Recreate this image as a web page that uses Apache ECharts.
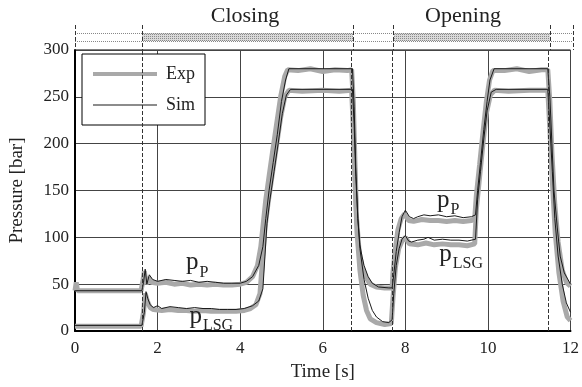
<!DOCTYPE html>
<html>
<head>
<meta charset="utf-8">
<script src="https://cdn.jsdelivr.net/npm/echarts@6/dist/echarts.min.js"></script>
<style>
  html, body { margin: 0; padding: 0; background: #fff; }
  #chart { width: 582px; height: 387px; }
</style>
</head>
<body>
<div id="chart"></div>
<script>
// Simulated pump pressure p_P [bar] over time [s]
var simPTime = [0, 1.62, 1.66, 1.70, 1.74, 1.80, 1.88, 2.0, 2.2, 2.4, 2.6, 2.8, 3.0, 3.2, 3.4, 3.6, 3.8, 4.0, 4.15, 4.3, 4.45, 4.55, 4.62, 4.7, 4.8, 4.9, 5.0, 5.1, 5.18, 6.72, 6.76, 6.8, 6.85, 6.9, 6.95, 7.0, 7.1, 7.2, 7.35, 7.6, 7.68, 7.72, 7.78, 7.85, 7.92, 8.0, 8.1, 8.2, 8.3, 8.45, 8.6, 8.8, 9.0, 9.2, 9.4, 9.6, 9.7, 9.75, 9.82, 9.9, 9.98, 10.05, 10.15, 11.45, 11.5, 11.55, 11.6, 11.68, 11.75, 11.85, 12];
var simP     = [43, 43, 52, 66, 50, 60, 55, 53, 55, 54, 53, 54, 52, 53, 52, 51, 51, 51, 53, 58, 70, 90, 120, 150, 180, 210, 245, 268, 280, 280, 240, 175, 120, 92, 80, 70, 58, 51, 47, 46, 46, 60, 85, 105, 122, 129, 122, 120, 122, 124, 123, 124, 122, 123, 121, 122, 124, 150, 180, 215, 245, 268, 280, 280, 250, 200, 150, 110, 80, 62, 50];

// Simulated load-sensing pressure p_LSG [bar]
var simLTime = [0, 1.62, 1.68, 1.72, 1.76, 1.82, 1.9, 2.0, 2.1, 2.3, 2.5, 2.7, 2.9, 3.1, 3.3, 3.5, 3.7, 3.9, 4.1, 4.3, 4.45, 4.55, 4.6, 4.65, 4.72, 4.82, 4.92, 5.02, 5.12, 5.22, 6.72, 6.76, 6.8, 6.85, 6.9, 7.0, 7.1, 7.2, 7.3, 7.45, 7.6, 7.68, 7.72, 7.78, 7.85, 7.92, 8.0, 8.08, 8.15, 8.3, 8.45, 8.55, 8.7, 8.9, 9.1, 9.3, 9.5, 9.7, 9.75, 9.82, 9.9, 9.98, 10.08, 10.2, 11.45, 11.5, 11.56, 11.62, 11.7, 11.8, 11.9, 12];
var simL     = [6, 6, 20, 42, 35, 28, 25, 27, 24, 26, 25, 24, 25, 24, 24, 23, 23, 23, 24, 27, 32, 45, 80, 115, 140, 170, 200, 232, 252, 258, 258, 220, 165, 120, 88, 55, 35, 22, 15, 10, 9, 12, 40, 70, 88, 98, 102, 96, 95, 97, 98, 100, 97, 98, 97, 97, 96, 98, 140, 170, 205, 235, 255, 258, 258, 220, 170, 120, 80, 50, 30, 20];

// Measured pump pressure p_P [bar]
var expPTime = [0, 0.03, 0.06, 1.6, 1.65, 1.68, 1.72, 1.78, 1.85, 2.0, 2.2, 2.4, 2.6, 2.8, 3.0, 3.2, 3.4, 3.6, 3.8, 4.0, 4.15, 4.3, 4.42, 4.5, 4.56, 4.62, 4.7, 4.78, 4.88, 4.98, 5.08, 5.15, 5.4, 5.7, 6.0, 6.3, 6.6, 6.7, 6.74, 6.78, 6.82, 6.88, 6.95, 7.05, 7.15, 7.3, 7.5, 7.68, 7.7, 7.76, 7.82, 7.9, 7.98, 8.08, 8.2, 8.4, 8.6, 8.8, 9.0, 9.2, 9.4, 9.6, 9.68, 9.72, 9.8, 9.88, 9.96, 10.04, 10.12, 10.4, 10.7, 11.0, 11.3, 11.45, 11.5, 11.55, 11.62, 11.7, 11.8, 11.9, 12];
var expP     = [43, 52, 43, 43, 55, 64, 50, 57, 52, 51, 52, 50, 51, 49, 50, 49, 50, 49, 49, 50, 52, 58, 70, 90, 115, 140, 165, 190, 220, 250, 272, 279, 278, 280, 277, 279, 278, 279, 245, 180, 120, 85, 68, 57, 50, 47, 46, 46, 62, 88, 108, 120, 125, 118, 117, 119, 118, 118, 117, 118, 117, 118, 120, 145, 178, 212, 244, 268, 278, 278, 280, 277, 279, 279, 245, 190, 135, 95, 65, 52, 48];

// Measured load-sensing pressure p_LSG [bar]
var expLTime = [0, 1.6, 1.66, 1.7, 1.75, 1.82, 1.9, 2.1, 2.3, 2.5, 2.7, 2.9, 3.1, 3.3, 3.5, 3.7, 3.9, 4.1, 4.25, 4.38, 4.48, 4.54, 4.6, 4.68, 4.78, 4.88, 4.98, 5.08, 5.18, 5.5, 6.0, 6.4, 6.7, 6.74, 6.78, 6.83, 6.9, 6.98, 7.06, 7.15, 7.3, 7.5, 7.66, 7.7, 7.76, 7.84, 7.92, 8.0, 8.1, 8.3, 8.5, 8.7, 8.9, 9.1, 9.3, 9.5, 9.68, 9.72, 9.8, 9.88, 9.96, 10.06, 10.16, 10.5, 11.0, 11.45, 11.5, 11.56, 11.63, 11.72, 11.82, 11.92, 12];
var expL     = [5, 5, 20, 40, 32, 25, 23, 22, 23, 22, 22, 21, 22, 21, 21, 21, 21, 22, 24, 28, 40, 75, 110, 138, 168, 198, 228, 250, 257, 256, 257, 256, 257, 215, 160, 105, 65, 38, 22, 13, 9, 7, 8, 35, 68, 88, 96, 100, 93, 92, 94, 92, 93, 92, 92, 91, 93, 130, 165, 200, 232, 252, 257, 256, 257, 257, 215, 160, 105, 62, 32, 15, 11];

// Valve phases [start, end] in s and switching instants
var phaseNames  = ['Closing', 'Opening'];
var phaseRanges = [[1.62, 6.7], [7.68, 11.45]];
var switchTimes = [1.62, 6.7, 7.68, 11.45];

// Axis ticks
var xTicks = [0, 2, 4, 6, 8, 10, 12];
var yTicks = [0, 50, 100, 150, 200, 250, 300];

// Curve annotations: [text parts, t, p]
var curveLabels = [
  { main: 'p', sub: 'P',   t: 2.96, p: 70 },
  { main: 'p', sub: 'LSG', t: 3.30, p: 13 },
  { main: 'p', sub: 'P',   t: 9.04, p: 137 },
  { main: 'p', sub: 'LSG', t: 9.35, p: 79 }
];

function zip(a, b) { return a.map(function (v, i) { return [v, b[i]]; }); }

var SERIF = '"Liberation Serif", "DejaVu Serif", serif';

// stippled fill for the phase bars
var pat = document.createElement('canvas');
pat.width = 2; pat.height = 2;
var pctx = pat.getContext('2d');
pctx.fillStyle = '#dadada'; pctx.fillRect(0, 0, 2, 2);
pctx.fillStyle = '#8c8c8c'; pctx.fillRect(0, 0, 1, 1);

var chart = echarts.init(document.getElementById('chart'), null, { renderer: 'canvas' });

var labelPoints = curveLabels.map(function (c) {
  return {
    coord: [c.t, c.p],
    label: { formatter: '{m|' + c.main + '}{s|' + c.sub + '}' }
  };
});

var option = {
  animation: false,
  backgroundColor: '#fff',
  textStyle: { fontFamily: SERIF },
  grid: [
    { left: 75, right: 9, top: 50, bottom: 56, show: true, borderColor: '#000', borderWidth: 1 },
    { left: 75, right: 9, top: 25, height: 25 }
  ],
  xAxis: [
    {
      type: 'value', min: 0, max: 12, interval: 2, gridIndex: 0,
      name: 'Time [s]', nameLocation: 'middle', nameGap: 32,
      nameTextStyle: { fontFamily: SERIF, fontSize: 19, color: '#222' },
      axisLine: { show: true, lineStyle: { color: '#000', width: 2 } },
      axisTick: { show: false },
      axisLabel: { fontFamily: SERIF, fontSize: 17, color: '#222', margin: 9,
        formatter: function (v) { return xTicks.indexOf(v) >= 0 ? String(v) : ''; } },
      splitLine: { show: true, lineStyle: { color: '#444', width: 1 } }
    },
    { type: 'value', min: 0, max: 12, gridIndex: 1, show: false }
  ],
  yAxis: [
    {
      type: 'value', min: 0, max: 300, interval: 50, gridIndex: 0,
      name: 'Pressure [bar]', nameLocation: 'middle', nameGap: 48,
      nameTextStyle: { fontFamily: SERIF, fontSize: 19, color: '#222' },
      axisLine: { show: true, lineStyle: { color: '#000', width: 2 } },
      axisTick: { show: false },
      axisLabel: { fontFamily: SERIF, fontSize: 17, color: '#222', margin: 6,
        formatter: function (v) { return yTicks.indexOf(v) >= 0 ? String(v) : ''; } },
      splitLine: { show: true, lineStyle: { color: '#444', width: 1 } }
    },
    { type: 'value', min: 0, max: 25, inverse: true, gridIndex: 1, show: false }
  ],
  legend: {
    orient: 'vertical', left: 82, top: 54,
    padding: [11, 10, 11, 11], itemGap: 13,
    itemWidth: 64, itemHeight: 14, symbolKeepAspect: true,
    borderColor: '#000', borderWidth: 1, backgroundColor: '#fff',
    data: [
      { name: 'Exp', icon: 'path://M0,0H64V4H0Z', itemStyle: { color: '#a9a9a9' } },
      { name: 'Sim', icon: 'path://M0,0H64V1.2H0Z', itemStyle: { color: '#1a1a1a' } }
    ],
    textStyle: { fontFamily: SERIF, fontSize: 18, color: '#222', padding: [0, 0, 0, 4] }
  },
  graphic: [
    { type: 'text', x: 245, y: 5, style: { text: phaseNames[0], font: '22px ' + SERIF, fill: '#222', textAlign: 'center' } },
    { type: 'text', x: 463, y: 5, style: { text: phaseNames[1], font: '22px ' + SERIF, fill: '#222', textAlign: 'center' } }
  ],
  series: [
    {
      name: 'Exp', type: 'line', data: zip(expPTime, expP), showSymbol: false, symbol: 'none',
      lineStyle: { color: '#a9a9a9', width: 5 }, itemStyle: { color: '#a9a9a9' }, z: 2
    },
    {
      name: 'Exp', type: 'line', data: zip(expLTime, expL), showSymbol: false, symbol: 'none',
      lineStyle: { color: '#a9a9a9', width: 5 }, itemStyle: { color: '#a9a9a9' }, z: 2
    },
    {
      name: 'Sim', type: 'line', data: zip(simPTime, simP), showSymbol: false, symbol: 'none',
      lineStyle: { color: '#1a1a1a', width: 1 }, itemStyle: { color: '#1a1a1a' }, z: 3,
      markPoint: {
        symbol: 'circle', symbolSize: 1, itemStyle: { color: 'rgba(0,0,0,0)' },
        label: {
          show: true, position: 'inside', color: '#222',
          rich: {
            m: { fontFamily: SERIF, fontSize: 25, color: '#222', verticalAlign: 'bottom', padding: [0, 1, 5, 0] },
            s: { fontFamily: SERIF, fontSize: 16, color: '#222', verticalAlign: 'bottom' }
          }
        },
        data: labelPoints
      }
    },
    {
      name: 'Sim', type: 'line', data: zip(simLTime, simL), showSymbol: false, symbol: 'none',
      lineStyle: { color: '#1a1a1a', width: 1 }, itemStyle: { color: '#1a1a1a' }, z: 3,
      markLine: {
        silent: true, symbol: 'none', label: { show: false },
        lineStyle: { color: '#333', type: 'dashed', width: 1 },
        data: switchTimes.map(function (t) { return { xAxis: t }; })
      }
    },
    {
      // phase bar above the plot
      name: 'phase', type: 'line', xAxisIndex: 1, yAxisIndex: 1, data: [], silent: true,
      markArea: {
        silent: true,
        itemStyle: { color: { image: pat, repeat: 'repeat' } },
        data: phaseRanges.map(function (r) { return [{ coord: [r[0], 8] }, { coord: [r[1], 16] }]; })
      },
      markLine: {
        silent: true, symbol: 'none', label: { show: false },
        data: [
          [{ coord: [0, 8], lineStyle: { color: '#888', type: 'dotted', width: 1 } }, { coord: [12, 8] }],
          [{ coord: [0, 16], lineStyle: { color: '#888', type: 'dotted', width: 1 } }, { coord: [12, 16] }]
        ].concat([0, 12].concat(switchTimes).map(function (t) {
          return [{ coord: [t, 0], lineStyle: { color: '#333', type: 'dashed', width: 1 } }, { coord: [t, 25] }];
        }))
      }
    }
  ]
};

chart.setOption(option);
</script>
</body>
</html>
